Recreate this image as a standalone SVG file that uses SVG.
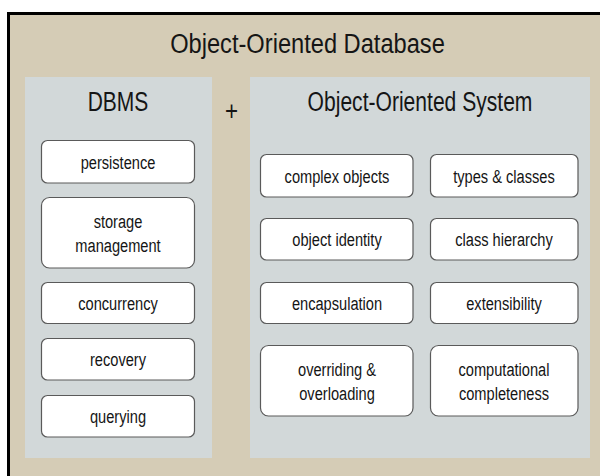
<svg xmlns="http://www.w3.org/2000/svg" width="600" height="476" viewBox="0 0 600 476">
<style>
text{font-family:"Liberation Sans",Arial,sans-serif;fill:#151515;text-anchor:middle}
.title{font-size:28px}
.head{font-size:28px}
.lbl{font-size:19px}
.panel{fill:#D2D8D9}
.box{fill:#FFFFFF;stroke:#5A5A5A;stroke-width:1.2}
</style>
<rect width="600" height="476" fill="#FFFFFF"/>
<g id="outer">
<rect x="8.5" y="13.5" width="640" height="520" fill="#D5CCB6" stroke="#000000" stroke-width="3"/>
<text class="title" transform="translate(307.5,52.5) scale(0.845,1)">Object-Oriented Database</text>
</g>
<g id="dbms">
<rect class="panel" x="25" y="77" width="187" height="381"/>
<text class="head" transform="translate(118,110.5) scale(0.75,1)">DBMS</text>
</g>
<g id="plus">
<text class="head" transform="translate(231.5,120) scale(0.8,1)">+</text>
</g>
<g id="oos">
<rect class="panel" x="250" y="77" width="340" height="381"/>
<text class="head" transform="translate(420,110.5) scale(0.753,1)">Object-Oriented System</text>
</g>
<g id="persistence">
<rect class="box" x="41.5" y="140.5" width="153" height="42.5" rx="6"/>
<text class="lbl" transform="translate(118,169) scale(0.77,1)">persistence</text>
</g>
<g id="storage">
<rect class="box" x="41.5" y="197.5" width="153" height="70.5" rx="8"/>
<text class="lbl" transform="translate(118,227.5) scale(0.77,1)">storage</text>
<text class="lbl" transform="translate(118,251.5) scale(0.77,1)">management</text>
</g>
<g id="concurrency">
<rect class="box" x="41.5" y="282.5" width="153" height="41" rx="6"/>
<text class="lbl" transform="translate(118,310) scale(0.77,1)">concurrency</text>
</g>
<g id="recovery">
<rect class="box" x="41.5" y="338.5" width="153" height="41.5" rx="6"/>
<text class="lbl" transform="translate(118,366) scale(0.77,1)">recovery</text>
</g>
<g id="querying">
<rect class="box" x="41.5" y="395.5" width="153" height="41.5" rx="6"/>
<text class="lbl" transform="translate(118,423) scale(0.77,1)">querying</text>
</g>
<g id="complex-objects">
<rect class="box" x="260.5" y="154.5" width="152.5" height="42.5" rx="6"/>
<text class="lbl" transform="translate(337,182.5) scale(0.77,1)">complex objects</text>
</g>
<g id="types-classes">
<rect class="box" x="430.5" y="154.5" width="147.5" height="42.5" rx="6"/>
<text class="lbl" transform="translate(504,182.5) scale(0.77,1)">types &amp; classes</text>
</g>
<g id="object-identity">
<rect class="box" x="260.5" y="218.5" width="152.5" height="41.5" rx="6"/>
<text class="lbl" transform="translate(337,246) scale(0.77,1)">object identity</text>
</g>
<g id="class-hierarchy">
<rect class="box" x="430.5" y="218.5" width="147.5" height="41.5" rx="6"/>
<text class="lbl" transform="translate(504,246) scale(0.77,1)">class hierarchy</text>
</g>
<g id="encapsulation">
<rect class="box" x="260.5" y="282.5" width="152.5" height="41" rx="6"/>
<text class="lbl" transform="translate(337,310) scale(0.77,1)">encapsulation</text>
</g>
<g id="extensibility">
<rect class="box" x="430.5" y="282.5" width="147.5" height="41" rx="6"/>
<text class="lbl" transform="translate(504,310) scale(0.77,1)">extensibility</text>
</g>
<g id="overriding">
<rect class="box" x="260.5" y="345.5" width="152.5" height="70.5" rx="8"/>
<text class="lbl" transform="translate(337,375.5) scale(0.77,1)">overriding &amp;</text>
<text class="lbl" transform="translate(337,399.5) scale(0.77,1)">overloading</text>
</g>
<g id="computational">
<rect class="box" x="430.5" y="345.5" width="147.5" height="70.5" rx="8"/>
<text class="lbl" transform="translate(504,375.5) scale(0.77,1)">computational</text>
<text class="lbl" transform="translate(504,399.5) scale(0.77,1)">completeness</text>
</g>
</svg>
